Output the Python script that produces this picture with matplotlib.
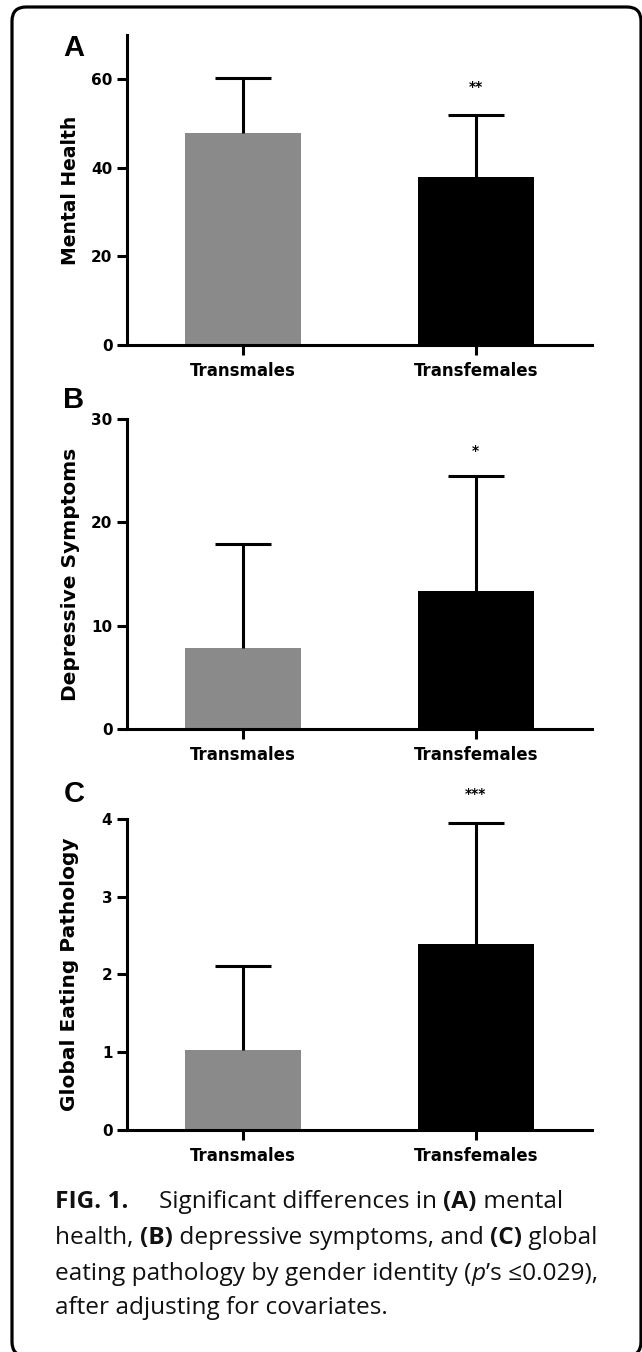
import matplotlib
matplotlib.use("Agg")
import matplotlib.pyplot as plt
from matplotlib.patches import FancyBboxPatch
import numpy as np

# ---------------- data ----------------
categories = ["Transmales", "Transfemales"]
bar_colors = ["#8a8a8a", "#000000"]

mental_mean = [47.9, 37.9]
mental_sd = [12.4, 14.0]
mental_sig = "**"

depress_mean = [7.8, 13.4]
depress_sd = [10.1, 11.1]
depress_sig = "*"

eating_mean = [1.03, 2.39]
eating_sd = [1.08, 1.56]
eating_sig = "***"

panel_letters = ["A", "B", "C"]
ylabels = ["Mental Health", "Depressive Symptoms", "Global Eating Pathology"]
yticks_list = [[0, 20, 40, 60], [0, 10, 20, 30], [0, 1, 2, 3, 4]]
ylims = [(0, 70), (0, 30), (0, 4)]

# ---------------- figure ----------------
W, H = 642, 1352
DPI = 100
fig = plt.figure(figsize=(W / DPI, H / DPI), dpi=DPI)
fig.patch.set_facecolor("white")


def fx(x):
    return x / W


def fy(y):
    return 1 - y / H


# rounded border (extends slightly past the right / bottom edges)
border = FancyBboxPatch((fx(12), fy(1356)), fx(641) - fx(12), fy(7) - fy(1356),
                        boxstyle="round,pad=0,rounding_size=0.022",
                        transform=fig.transFigure, fill=False,
                        edgecolor="black", linewidth=2.3,
                        mutation_aspect=W / H, clip_on=False)
fig.patches.append(border)

# axes positions in pixels: (left, right, top, bottom)
ax_px = [(127, 592, 35, 345), (127, 592, 419, 729), (127, 592, 819, 1129.5)]
letter_base = [56, 408, 802]
ylabel_x = 70
ylabel_sizes = [13.5, 14.5, 14.5]

means_all = [mental_mean, depress_mean, eating_mean]
sds_all = [mental_sd, depress_sd, eating_sd]
sig_all = [mental_sig, depress_sig, eating_sig]
sig_vals = [58.2, 26.9, 4.32]

chart_font = "DejaVu Sans"
LW = 2.2

for i in range(3):
    l, r, t, b = ax_px[i]
    ax = fig.add_axes([fx(l), fy(b), fx(r) - fx(l), fy(t) - fy(b)])
    x = np.arange(len(categories))
    means = np.asarray(means_all[i])
    sds = np.asarray(sds_all[i])
    ax.bar(x, means, width=0.5, color=bar_colors, edgecolor="none", zorder=2)
    _, caplines, _ = ax.errorbar(x, means, yerr=[np.zeros(len(sds)), sds],
                                 fmt="none", ecolor="black", elinewidth=LW,
                                 capsize=20.5, capthick=LW, zorder=3)
    # keep only the upper caps (one-sided error bars)
    for cl in caplines:
        yd = np.asarray(cl.get_ydata(), dtype=float)
        if np.allclose(yd, means):
            cl.set_visible(False)
    ax.set_xlim(-0.5, 1.5)
    ax.set_ylim(*ylims[i])
    ax.set_yticks(yticks_list[i])
    ax.set_yticklabels([str(v) for v in yticks_list[i]], fontsize=11,
                       fontweight="bold", family=chart_font)
    ax.set_xticks(x)
    ax.set_xticklabels(categories, fontsize=12, fontweight="bold",
                       family=chart_font)
    for s in ["top", "right"]:
        ax.spines[s].set_visible(False)
    for s in ["left", "bottom"]:
        ax.spines[s].set_linewidth(LW)
        ax.spines[s].set_capstyle("projecting")
    ax.tick_params(axis="y", length=7, width=LW, pad=3.5, direction="out")
    ax.tick_params(axis="x", length=7, width=LW, pad=5.5, direction="out")
    ax.set_facecolor("none")
    # significance stars over the second bar
    ax.text(x[1], sig_vals[i], sig_all[i], ha="center", va="center",
            fontsize=10, fontweight="bold", family=chart_font, clip_on=False)
    # y label
    fig.text(fx(ylabel_x), fy((t + b) / 2), ylabels[i], rotation=90,
             ha="center", va="center", fontsize=ylabel_sizes[i],
             fontweight="bold", family=chart_font)
    # panel letter
    fig.text(fx(74), fy(letter_base[i]), panel_letters[i], ha="center",
             va="baseline", fontsize=21, fontweight="bold",
             family="Liberation Sans")

# ---------------- caption ----------------
cap_font = ["Open Sans", "DejaVu Sans"]
cap_size = 17.6
renderer = fig.canvas.get_renderer()

caption_lines = [
    [("FIG. 1.", "bold", "normal", 55), ("Significant differences in ", "normal", "normal", 159),
     ("(A)", "bold", "normal", None), (" mental", "normal", "normal", None)],
    [("health, ", "normal", "normal", 55), ("(B)", "bold", "normal", None),
     (" depressive symptoms, and ", "normal", "normal", None), ("(C)", "bold", "normal", None),
     (" global", "normal", "normal", None)],
    [("eating pathology by gender identity (", "normal", "normal", 55),
     ("p", "normal", "italic", None), ("\u2019s \u22640.029),", "normal", "normal", None)],
    [("after adjusting for covariates.", "normal", "normal", 55)],
]
caption_baselines = [1208, 1244, 1280, 1314]

for runs, base in zip(caption_lines, caption_baselines):
    xpos = None
    for text, weight, style, xstart in runs:
        if xstart is not None:
            xpos = xstart
        tt = fig.text(fx(xpos), fy(base), text, ha="left", va="baseline",
                      fontsize=cap_size, fontweight=weight, fontstyle=style,
                      family=cap_font, color="#111111")
        bb = tt.get_window_extent(renderer=renderer)
        xpos = xpos + bb.width

fig.savefig("out.png", dpi=DPI, facecolor="white")
